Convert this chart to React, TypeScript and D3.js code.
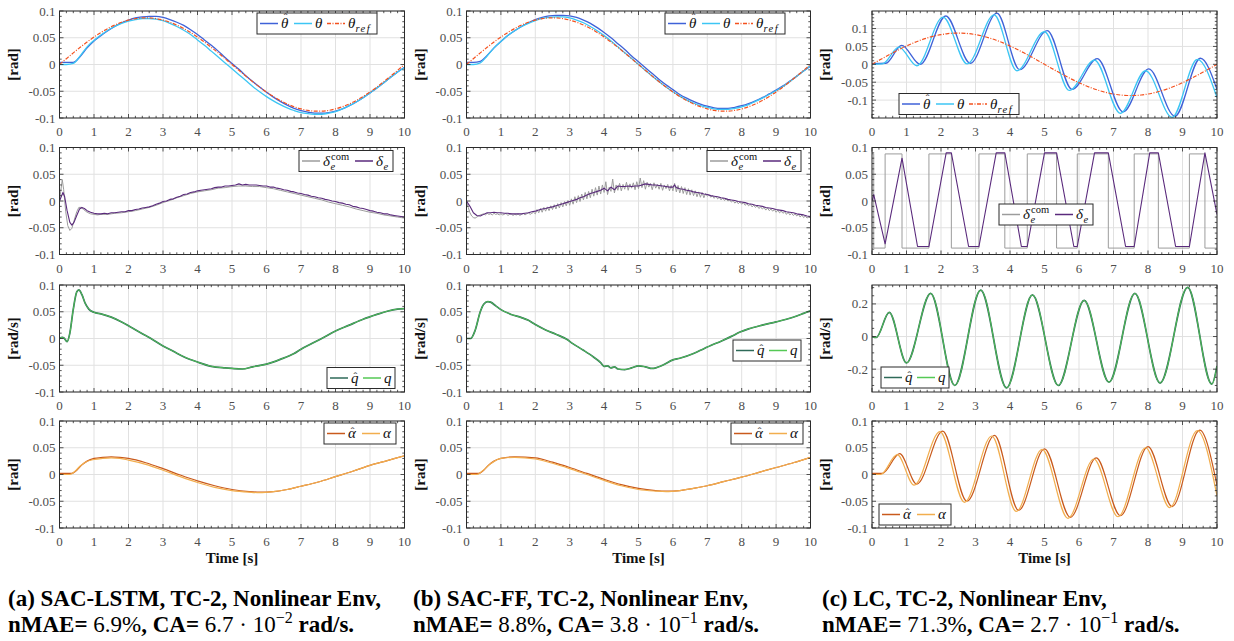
import React from "react";
import * as d3 from "d3";

type Pt = [number, number];

const FONT = '"Liberation Serif", "DejaVu Serif", "Times New Roman", Times, serif';

// ---------- tick values ----------
const TIME_TICKS = [0, 1, 2, 3, 4, 5, 6, 7, 8, 9, 10];
const ANGLE_TICKS = [-0.1, -0.05, 0, 0.05, 0.1];
const RATE_TICKS_WIDE = [-0.2, 0, 0.2];

// ---------- shared reference pitch angle (0.2 s grid) ----------
const thetaRef = [
  0, 0.0109, 0.0217, 0.0321, 0.0421, 0.0513, 0.0598, 0.0673, 0.0737, 0.079, 0.083, 0.0858, 0.0871,
  0.0871, 0.0858, 0.083, 0.079, 0.0737, 0.0673, 0.0598, 0.0513, 0.0421, 0.0321, 0.0217, 0.0109, 0,
  -0.0109, -0.0217, -0.0321, -0.0421, -0.0513, -0.0598, -0.0673, -0.0737, -0.079, -0.083, -0.0858,
  -0.0871, -0.0871, -0.0858, -0.083, -0.079, -0.0737, -0.0673, -0.0598, -0.0513, -0.0421, -0.0321,
  -0.0217, -0.0109, 0,
];

// ---------- (a) SAC-LSTM ----------
const thetaHatA = [
  0.004, 0.004, 0.004, 0.015, 0.031, 0.044, 0.054, 0.063, 0.071, 0.078, 0.083, 0.087, 0.089, 0.09,
  0.09, 0.088, 0.084, 0.079, 0.073, 0.065, 0.056, 0.046, 0.036, 0.025, 0.013, 0.002, -0.009, -0.021,
  -0.032, -0.042, -0.052, -0.061, -0.069, -0.076, -0.082, -0.086, -0.089, -0.091, -0.091, -0.09,
  -0.087, -0.083, -0.077, -0.07, -0.062, -0.053, -0.044, -0.034, -0.024, -0.014, -0.005,
];
const thetaA = [
  0, 0, 0.002, 0.016, 0.033, 0.045, 0.055, 0.064, 0.071, 0.077, 0.081, 0.084, 0.086, 0.086, 0.085,
  0.082, 0.077, 0.071, 0.064, 0.056, 0.046, 0.036, 0.025, 0.014, 0.003, -0.008, -0.019, -0.03,
  -0.041, -0.051, -0.06, -0.068, -0.075, -0.081, -0.086, -0.09, -0.092, -0.093, -0.093, -0.091,
  -0.088, -0.083, -0.077, -0.07, -0.062, -0.053, -0.044, -0.034, -0.024, -0.014, -0.006,
];
const deltaComA: Pt[] = [
  [0, 0], [0.04, 0.02], [0.08, 0.04], [0.12, 0.022], [0.18, -0.02], [0.24, -0.046], [0.3, -0.055],
  [0.36, -0.051], [0.42, -0.037], [0.5, -0.02], [0.56, -0.012], [0.62, -0.012], [0.7, -0.016],
  [0.8, -0.021], [0.9, -0.024], [1.0, -0.025], [1.1, -0.026], [1.2, -0.025], [1.4, -0.025],
  [1.6, -0.023], [1.8, -0.022], [2.0, -0.02], [2.2, -0.018], [2.4, -0.015], [2.6, -0.012],
  [2.8, -0.008], [3.0, -0.003], [3.2, 0.001], [3.4, 0.006], [3.6, 0.01], [3.8, 0.014], [4.0, 0.017],
  [4.2, 0.019], [4.4, 0.021], [4.6, 0.024], [4.8, 0.025], [5.0, 0.027], [5.2, 0.028], [5.4, 0.028],
  [5.6, 0.027], [5.8, 0.027], [6.0, 0.025], [6.2, 0.023], [6.4, 0.02], [6.6, 0.017], [6.8, 0.014],
  [7.0, 0.011], [7.2, 0.008], [7.4, 0.005], [7.6, 0.002], [7.8, -0.002], [8.0, -0.005],
  [8.2, -0.008], [8.4, -0.011], [8.6, -0.015], [8.8, -0.018], [9.0, -0.021], [9.2, -0.023],
  [9.4, -0.026], [9.6, -0.028], [9.8, -0.03], [10, -0.032],
];
const deltaA: Pt[] = [
  [0, 0], [0.05, 0.008], [0.1, 0.016], [0.15, 0.008], [0.22, -0.018], [0.3, -0.04], [0.36, -0.045],
  [0.42, -0.04], [0.5, -0.027], [0.58, -0.015], [0.65, -0.012], [0.72, -0.014], [0.8, -0.018],
  [0.9, -0.021], [1.0, -0.023], [1.1, -0.024], [1.2, -0.024], [1.3, -0.023], [1.4, -0.024],
  [1.5, -0.022], [1.6, -0.022], [1.7, -0.021], [1.8, -0.02], [1.9, -0.02], [2.0, -0.018],
  [2.1, -0.018], [2.2, -0.016], [2.3, -0.015], [2.4, -0.013], [2.5, -0.012], [2.6, -0.011],
  [2.7, -0.009], [2.8, -0.006], [2.9, -0.004], [3.0, -0.001], [3.1, 0.0], [3.2, 0.003], [3.3, 0.004],
  [3.4, 0.007], [3.5, 0.009], [3.6, 0.012], [3.7, 0.013], [3.8, 0.016], [3.9, 0.017], [4.0, 0.019],
  [4.1, 0.02], [4.2, 0.021], [4.3, 0.022], [4.4, 0.023], [4.5, 0.025], [4.6, 0.026], [4.7, 0.026],
  [4.8, 0.028], [4.9, 0.028], [5.0, 0.029], [5.1, 0.03], [5.2, 0.032], [5.3, 0.03], [5.4, 0.031],
  [5.5, 0.03], [5.6, 0.03], [5.7, 0.03], [5.8, 0.029], [5.9, 0.028], [6.0, 0.028], [6.1, 0.026],
  [6.2, 0.026], [6.3, 0.024], [6.4, 0.023], [6.5, 0.021], [6.6, 0.02], [6.7, 0.018], [6.8, 0.017],
  [6.9, 0.015], [7.0, 0.014], [7.1, 0.012], [7.2, 0.011], [7.3, 0.009], [7.4, 0.008], [7.5, 0.006],
  [7.6, 0.005], [7.7, 0.003], [7.8, 0.002], [7.9, 0.0], [8.0, -0.001], [8.1, -0.003], [8.2, -0.004],
  [8.3, -0.006], [8.4, -0.007], [8.5, -0.01], [8.6, -0.011], [8.7, -0.013], [8.8, -0.014],
  [8.9, -0.016], [9.0, -0.018], [9.1, -0.019], [9.2, -0.021], [9.3, -0.022], [9.4, -0.024],
  [9.5, -0.024], [9.6, -0.026], [9.7, -0.027], [9.8, -0.028], [9.9, -0.029], [10, -0.03],
];
const qA: Pt[] = [
  [0, 0], [0.08, 0.002], [0.13, 0.001], [0.22, -0.006], [0.3, 0.01], [0.4, 0.055], [0.5, 0.087],
  [0.56, 0.091], [0.65, 0.082], [0.75, 0.065], [0.85, 0.055], [1.0, 0.049], [1.2, 0.046],
  [1.5, 0.04], [1.8, 0.031], [2.1, 0.02], [2.4, 0.009], [2.65, 0.0], [3.0, -0.014], [3.3, -0.024],
  [3.6, -0.034], [4.0, -0.044], [4.4, -0.052], [4.8, -0.055], [5.0, -0.056], [5.3, -0.057],
  [5.6, -0.053], [6.0, -0.048], [6.4, -0.039], [6.8, -0.028], [7.0, -0.02], [7.3, -0.01],
  [7.6, 0.0], [8.0, 0.014], [8.4, 0.025], [8.8, 0.036], [9.2, 0.045], [9.5, 0.051], [9.8, 0.055],
  [10, 0.056],
];
const alphaHatA: Pt[] = [
  [0, 0.002], [0.35, 0.002], [0.5, 0.008], [0.65, 0.018], [0.8, 0.025], [1.0, 0.03], [1.25, 0.032],
  [1.5, 0.033], [1.75, 0.032], [2.0, 0.03], [2.5, 0.022], [3.0, 0.011], [3.5, -0.001], [4.0, -0.012],
  [4.5, -0.021], [5.0, -0.028], [5.5, -0.032], [5.8, -0.033], [6.2, -0.032], [6.6, -0.028],
  [7.0, -0.022], [7.5, -0.014], [8.0, -0.004], [8.5, 0.006], [9.0, 0.017], [9.5, 0.026], [10, 0.035],
];
const alphaA: Pt[] = [
  [0, 0], [0.3, 0], [0.45, 0.006], [0.6, 0.016], [0.75, 0.023], [1.0, 0.028], [1.25, 0.03],
  [1.5, 0.031], [1.75, 0.03], [2.0, 0.027], [2.5, 0.019], [3.0, 0.008], [3.5, -0.004], [4.0, -0.015],
  [4.5, -0.024], [5.0, -0.03], [5.5, -0.033], [5.8, -0.034], [6.2, -0.032], [6.6, -0.028],
  [7.0, -0.022], [7.5, -0.014], [8.0, -0.004], [8.5, 0.006], [9.0, 0.017], [9.5, 0.026], [10, 0.035],
];

// ---------- (b) SAC-FF ----------
const thetaHatB = [
  0.004, 0.004, 0.006, 0.017, 0.031, 0.043, 0.054, 0.063, 0.071, 0.078, 0.084, 0.088, 0.091, 0.092,
  0.092, 0.091, 0.088, 0.083, 0.077, 0.069, 0.06, 0.05, 0.039, 0.028, 0.016, 0.005, -0.006, -0.017,
  -0.028, -0.038, -0.047, -0.056, -0.063, -0.069, -0.074, -0.078, -0.081, -0.082, -0.082, -0.08,
  -0.077, -0.073, -0.068, -0.062, -0.055, -0.048, -0.04, -0.031, -0.022, -0.012, -0.003,
];
const thetaB = [
  0, 0, 0.003, 0.016, 0.031, 0.043, 0.054, 0.063, 0.071, 0.077, 0.082, 0.086, 0.088, 0.089, 0.089,
  0.087, 0.083, 0.078, 0.071, 0.063, 0.054, 0.044, 0.033, 0.022, 0.011, 0.0, -0.011, -0.022, -0.032,
  -0.042, -0.051, -0.059, -0.066, -0.072, -0.077, -0.08, -0.083, -0.084, -0.084, -0.082, -0.079,
  -0.075, -0.069, -0.063, -0.056, -0.049, -0.041, -0.032, -0.022, -0.012, -0.002,
];
// commanded elevator, 0.05 s grid
const deltaComB = [
  0.0, -0.012, -0.022, -0.028, -0.031, -0.032, -0.03, -0.028, -0.026, -0.025, -0.024, -0.026, -0.023, -0.025, -0.024, -0.026, -0.023, -0.025, -0.024, -0.026,
  -0.024, -0.026, -0.025, -0.023, -0.027, -0.025, -0.024, -0.027, -0.025, -0.026, -0.024, -0.027, -0.025, -0.023, -0.026, -0.024, -0.022, -0.025, -0.023, -0.021,
  -0.024, -0.016, -0.022, -0.014, -0.021, -0.012, -0.019, -0.011, -0.018, -0.009, -0.016, -0.007, -0.015, -0.005, -0.013, -0.003, -0.011, -0.001, -0.009, 0.001,
  -0.008, 0.004, -0.006, 0.008, -0.003, 0.01, -0.001, 0.013, 0.002, 0.016, 0.004, 0.018, 0.006, 0.022, 0.009, 0.025, 0.011, 0.028, 0.013, 0.03,
  0.016, 0.036, 0.012, 0.026, 0.018, 0.041, 0.015, 0.03, 0.02, 0.033, 0.019, 0.031, 0.022, 0.035, 0.02, 0.032, 0.024, 0.034, 0.021, 0.036,
  0.023, 0.043, 0.025, 0.038, 0.022, 0.035, 0.026, 0.033, 0.021, 0.034, 0.024, 0.031, 0.022, 0.033, 0.02, 0.03, 0.023, 0.031, 0.019, 0.029,
  0.019, 0.033, 0.017, 0.029, 0.015, 0.027, 0.014, 0.025, 0.012, 0.023, 0.011, 0.021, 0.01, 0.019, 0.008, 0.017, 0.007, 0.016, 0.006, 0.014,
  0.009, 0.012, 0.007, 0.01, 0.005, 0.009, 0.004, 0.007, 0.002, 0.006, 0.001, 0.004, 0.0, 0.002, -0.002, 0.001, -0.004, -0.001, -0.005, -0.002,
  -0.006, -0.003, -0.008, -0.005, -0.009, -0.006, -0.011, -0.008, -0.012, -0.009, -0.014, -0.011, -0.015, -0.012, -0.017, -0.013, -0.018, -0.015, -0.019, -0.016,
  -0.021, -0.017, -0.022, -0.019, -0.023, -0.02, -0.025, -0.021, -0.026, -0.023, -0.027, -0.024, -0.028, -0.025, -0.03, -0.026, -0.031, -0.028, -0.032, -0.029,
  -0.031,
];
const deltaB: Pt[] = [
  [0, 0], [0.1, -0.01], [0.2, -0.022], [0.3, -0.027], [0.4, -0.028], [0.5, -0.025], [0.6, -0.022],
  [0.7, -0.022], [0.8, -0.021], [0.9, -0.022], [1.0, -0.022], [1.1, -0.023], [1.2, -0.023],
  [1.3, -0.024], [1.4, -0.024], [1.5, -0.024], [1.6, -0.024], [1.7, -0.023], [1.8, -0.022],
  [1.9, -0.02], [2.0, -0.019], [2.1, -0.017], [2.2, -0.015], [2.3, -0.014], [2.4, -0.012],
  [2.5, -0.011], [2.6, -0.009], [2.7, -0.007], [2.8, -0.005], [2.9, -0.003], [3.0, -0.001],
  [3.1, 0.001], [3.2, 0.003], [3.3, 0.006], [3.4, 0.008], [3.5, 0.011], [3.6, 0.014], [3.7, 0.016],
  [3.8, 0.018], [3.9, 0.02], [4.0, 0.024], [4.1, 0.019], [4.2, 0.026], [4.3, 0.021], [4.4, 0.028],
  [4.5, 0.027], [4.6, 0.027], [4.7, 0.028], [4.8, 0.027], [4.9, 0.028], [5.0, 0.028], [5.1, 0.03],
  [5.2, 0.032], [5.3, 0.031], [5.4, 0.03], [5.5, 0.03], [5.6, 0.029], [5.7, 0.028], [5.8, 0.027],
  [5.9, 0.026], [6.0, 0.026], [6.05, 0.03], [6.1, 0.025], [6.2, 0.023], [6.3, 0.022], [6.4, 0.02],
  [6.5, 0.019], [6.6, 0.017], [6.7, 0.016], [6.8, 0.015], [6.9, 0.013], [7.0, 0.012], [7.1, 0.01],
  [7.2, 0.009], [7.3, 0.008], [7.4, 0.006], [7.5, 0.005], [7.6, 0.003], [7.7, 0.002], [7.8, 0.001],
  [7.9, -0.001], [8.0, -0.002], [8.1, -0.003], [8.2, -0.005], [8.3, -0.006], [8.4, -0.008],
  [8.5, -0.009], [8.6, -0.01], [8.7, -0.012], [8.8, -0.013], [8.9, -0.014], [9.0, -0.016],
  [9.1, -0.017], [9.2, -0.018], [9.3, -0.02], [9.4, -0.021], [9.5, -0.022], [9.6, -0.024],
  [9.7, -0.025], [9.8, -0.026], [9.9, -0.028], [10, -0.029],
];
const qB: Pt[] = [
  [0, 0], [0.12, 0], [0.25, 0.015], [0.4, 0.05], [0.5, 0.064], [0.62, 0.069], [0.7, 0.068],
  [0.85, 0.061], [1.0, 0.054], [1.3, 0.045], [1.6, 0.039], [1.8, 0.034], [2.0, 0.026], [2.3, 0.016],
  [2.6, 0.008], [2.9, -0.001], [3.1, -0.01], [3.4, -0.022], [3.7, -0.035], [3.9, -0.045],
  [4.0, -0.052], [4.1, -0.051], [4.2, -0.055], [4.3, -0.053], [4.4, -0.057], [4.6, -0.058],
  [4.8, -0.055], [5.0, -0.051], [5.2, -0.053], [5.4, -0.056], [5.7, -0.05], [6.0, -0.04],
  [6.2, -0.037], [6.6, -0.028], [6.9, -0.019], [7.1, -0.013], [7.4, -0.005], [7.7, 0.004],
  [7.95, 0.012], [8.2, 0.018], [8.6, 0.025], [9.0, 0.031], [9.3, 0.036], [9.6, 0.042], [9.8, 0.047],
  [10, 0.052],
];
const alphaHatB: Pt[] = [
  [0, 0.002], [0.35, 0.002], [0.5, 0.008], [0.65, 0.018], [0.8, 0.025], [1.0, 0.03], [1.4, 0.033],
  [2.0, 0.031], [2.5, 0.023], [3.0, 0.013], [3.5, 0.002], [4.0, -0.009], [4.5, -0.019],
  [5.0, -0.026], [5.5, -0.03], [5.8, -0.031], [6.2, -0.03], [6.6, -0.026], [7.0, -0.021],
  [7.5, -0.013], [8.0, -0.005], [8.5, 0.004], [9.0, 0.013], [9.5, 0.022], [10, 0.032],
];
const alphaB: Pt[] = [
  [0, 0], [0.3, 0], [0.45, 0.006], [0.7, 0.02], [1.0, 0.03], [1.4, 0.032], [2.0, 0.029],
  [2.5, 0.021], [3.0, 0.011], [3.5, 0.0], [4.0, -0.011], [4.5, -0.021], [5.0, -0.028], [5.5, -0.031],
  [5.8, -0.032], [6.2, -0.03], [6.6, -0.026], [7.0, -0.021], [7.5, -0.013], [8.0, -0.005],
  [8.5, 0.004], [9.0, 0.013], [9.5, 0.022], [10, 0.032],
];

// ---------- (c) LC (turning points of the oscillation) ----------
const thetaHatC: Pt[] = [
  [0, 0.002], [0.4, 0.003], [0.86, 0.053], [1.4, 0.0], [2.14, 0.135], [2.85, 0.003], [3.62, 0.143],
  [4.28, -0.015], [5.08, 0.094], [5.8, -0.07], [6.53, 0.016], [7.28, -0.133], [8.02, -0.013],
  [8.78, -0.145], [9.52, 0.017], [10, -0.07],
];
const thetaC: Pt[] = [
  [0, 0], [0.3, 0.001], [0.78, 0.048], [1.3, -0.004], [2.06, 0.132], [2.76, 0.001], [3.54, 0.138],
  [4.2, -0.018], [5.0, 0.091], [5.72, -0.073], [6.45, 0.012], [7.2, -0.137], [7.93, -0.018],
  [8.7, -0.148], [9.43, 0.014], [10, -0.093],
];
// bang-bang elevator command: switching instants and levels
const deltaComC: Pt[] = [
  [0, 0.088], [0.05, -0.088], [0.38, 0.088], [0.87, -0.088], [1.65, 0.088], [2.3, -0.088],
  [3.1, 0.088], [3.85, -0.088], [4.5, 0.088], [5.35, -0.088], [5.95, 0.088], [6.85, -0.088],
  [7.6, 0.088], [8.3, -0.088], [9.2, 0.088], [9.65, -0.088], [10, -0.088],
];
const deltaC: Pt[] = [
  [0, 0], [0.05, 0.012], [0.38, -0.08], [0.87, 0.08], [1.32, -0.085], [1.65, -0.085], [2.15, 0.09],
  [2.3, 0.09], [2.8, -0.085], [3.1, -0.085], [3.6, 0.09], [3.85, 0.09], [4.33, -0.085], [4.5, -0.085],
  [5.0, 0.09], [5.35, 0.09], [5.85, -0.085], [5.95, -0.085], [6.45, 0.09], [6.85, 0.09],
  [7.35, -0.085], [7.6, -0.085], [8.05, 0.09], [8.3, 0.09], [8.8, -0.085], [9.2, -0.085],
  [9.65, 0.09], [10, -0.025],
];
const qC: Pt[] = [
  [0, 0], [0.12, -0.006], [0.5, 0.148], [1.0, -0.162], [1.7, 0.265], [2.4, -0.3], [3.15, 0.285],
  [3.9, -0.315], [4.65, 0.255], [5.4, -0.3], [6.15, 0.222], [6.87, -0.28], [7.62, 0.265],
  [8.35, -0.285], [9.15, 0.302], [9.85, -0.292], [10, -0.18],
];
const alphaHatC: Pt[] = [
  [0, 0.002], [0.3, 0.002], [0.8, 0.039], [1.3, -0.018], [2.05, 0.081], [2.75, -0.05], [3.55, 0.073],
  [4.25, -0.067], [5.0, 0.048], [5.75, -0.08], [6.5, 0.031], [7.2, -0.077], [8.0, 0.052],
  [8.7, -0.06], [9.5, 0.083], [10, -0.02],
];
const alphaC: Pt[] = [
  [0, 0], [0.25, 0], [0.73, 0.037], [1.22, -0.02], [1.97, 0.08], [2.68, -0.052], [3.47, 0.072],
  [4.18, -0.069], [4.93, 0.047], [5.68, -0.082], [6.43, 0.029], [7.13, -0.079], [7.93, 0.05],
  [8.63, -0.062], [9.43, 0.082], [10, -0.04],
];

// ---------- captions ----------
const CAPTION_TITLES = [
  "(a) SAC-LSTM, TC-2, Nonlinear Env,",
  "(b) SAC-FF, TC-2, Nonlinear Env,",
  "(c) LC, TC-2, Nonlinear Env,",
];
const CAPTION_NMAE = ["6.9%", "8.8%", "71.3%"];
const CAPTION_CA = ["6.7", "3.8", "2.7"];
const CAPTION_CA_EXP = ["\u22122", "\u22121", "\u22121"];

// ---------- helpers ----------
const onGrid = (vals: number[]): Pt[] => vals.map((v, i) => [(i * 10) / (vals.length - 1), v]);

const COLORS = {
  thetaHat: "#3F62D8",
  theta: "#3CC6F4",
  thetaRef: "#F4511E",
  deltaCom: "#9C9C9C",
  delta: "#5A2A7C",
  qHat: "#2E6A58",
  q: "#55C955",
  alphaHat: "#C95A1C",
  alpha: "#F2AE4E",
};

type LabelSpec = { sym: string; hat?: boolean; hatRise?: number; sub?: string; sup?: string; w: number };
type Series = { data: Pt[]; color: string; width: number; dash?: string; curve: d3.CurveFactory };
type Legend = { x: number; y: number; items: { s: number; label: LabelSpec }[] };
type Panel = {
  col: number;
  row: number;
  yDomain: [number, number];
  yTicks: number[];
  yMinor: number;
  yLabel: string;
  series: Series[];
  legend: Legend;
};

const COLS = [
  { left: 59.5, width: 345 },
  { left: 466.5, width: 344 },
  { left: 872, width: 345 },
];
const ROWS = [11, 147.5, 285, 421];
const PANEL_H = 107;

const L_THETA_HAT: LabelSpec = { sym: "\u03b8", hat: true, hatRise: 7, w: 9 };
const L_THETA: LabelSpec = { sym: "\u03b8", w: 8 };
const L_THETA_REF: LabelSpec = { sym: "\u03b8", sub: "ref", w: 26 };
const L_DELTA_COM: LabelSpec = { sym: "\u03b4", sub: "e", sup: "com", w: 28 };
const L_DELTA: LabelSpec = { sym: "\u03b4", sub: "e", w: 14 };
const L_Q_HAT: LabelSpec = { sym: "q", hat: true, hatRise: 3, w: 8 };
const L_Q: LabelSpec = { sym: "q", w: 8 };
const L_ALPHA_HAT: LabelSpec = { sym: "\u03b1", hat: true, hatRise: 3, w: 10 };
const L_ALPHA: LabelSpec = { sym: "\u03b1", w: 10 };

const smooth = d3.curveMonotoneX;
const lin = d3.curveLinear;

const thetaSeries = (hat: Pt[], th: Pt[], curve: d3.CurveFactory): Series[] => [
  { data: hat, color: COLORS.thetaHat, width: 1.3, curve },
  { data: th, color: COLORS.theta, width: 1.3, curve },
  { data: onGrid(thetaRef), color: COLORS.thetaRef, width: 1.2, dash: "4 1.5 1 1.5", curve: smooth },
];
const deltaSeries = (com: Pt[], d: Pt[], comCurve: d3.CurveFactory, dCurve: d3.CurveFactory): Series[] => [
  { data: com, color: COLORS.deltaCom, width: 1, curve: comCurve },
  { data: d, color: COLORS.delta, width: 1.1, curve: dCurve },
];
const qSeries = (q: Pt[]): Series[] => [
  { data: q, color: COLORS.qHat, width: 1.7, curve: smooth },
  { data: q, color: COLORS.q, width: 0.9, curve: smooth },
];
const alphaSeries = (hat: Pt[], a: Pt[]): Series[] => [
  { data: hat, color: COLORS.alphaHat, width: 1.2, curve: smooth },
  { data: a, color: COLORS.alpha, width: 1.2, curve: smooth },
];

const thetaItems = [
  { s: 0, label: L_THETA_HAT },
  { s: 1, label: L_THETA },
  { s: 2, label: L_THETA_REF },
];
const deltaItems = [
  { s: 0, label: L_DELTA_COM },
  { s: 1, label: L_DELTA },
];
const qItems = [
  { s: 0, label: L_Q_HAT },
  { s: 1, label: L_Q },
];
const alphaItems = [
  { s: 0, label: L_ALPHA_HAT },
  { s: 1, label: L_ALPHA },
];

const PANELS: Panel[] = [
  // column (a)
  { col: 0, row: 0, yDomain: [-0.1, 0.1], yTicks: ANGLE_TICKS, yMinor: 0.01, yLabel: "[rad]",
    series: thetaSeries(onGrid(thetaHatA), onGrid(thetaA), smooth), legend: { x: 257, y: 13, items: thetaItems } },
  { col: 0, row: 1, yDomain: [-0.1, 0.1], yTicks: ANGLE_TICKS, yMinor: 0.01, yLabel: "[rad]",
    series: deltaSeries(deltaComA, deltaA, lin, lin), legend: { x: 299, y: 150.5, items: deltaItems } },
  { col: 0, row: 2, yDomain: [-0.1, 0.1], yTicks: ANGLE_TICKS, yMinor: 0.01, yLabel: "[rad/s]",
    series: qSeries(qA), legend: { x: 327, y: 367.5, items: qItems } },
  { col: 0, row: 3, yDomain: [-0.1, 0.1], yTicks: ANGLE_TICKS, yMinor: 0.01, yLabel: "[rad]",
    series: alphaSeries(alphaHatA, alphaA), legend: { x: 324, y: 423, items: alphaItems } },
  // column (b)
  { col: 1, row: 0, yDomain: [-0.1, 0.1], yTicks: ANGLE_TICKS, yMinor: 0.01, yLabel: "[rad]",
    series: thetaSeries(onGrid(thetaHatB), onGrid(thetaB), smooth), legend: { x: 665, y: 13, items: thetaItems } },
  { col: 1, row: 1, yDomain: [-0.1, 0.1], yTicks: ANGLE_TICKS, yMinor: 0.01, yLabel: "[rad]",
    series: deltaSeries(onGrid(deltaComB), deltaB, lin, lin), legend: { x: 707, y: 150.5, items: deltaItems } },
  { col: 1, row: 2, yDomain: [-0.1, 0.1], yTicks: ANGLE_TICKS, yMinor: 0.01, yLabel: "[rad/s]",
    series: qSeries(qB), legend: { x: 733, y: 340, items: qItems } },
  { col: 1, row: 3, yDomain: [-0.1, 0.1], yTicks: ANGLE_TICKS, yMinor: 0.01, yLabel: "[rad]",
    series: alphaSeries(alphaHatB, alphaB), legend: { x: 731, y: 423, items: alphaItems } },
  // column (c)
  { col: 2, row: 0, yDomain: [-0.15, 0.149], yTicks: ANGLE_TICKS, yMinor: 0.01, yLabel: "[rad]",
    series: thetaSeries(thetaHatC, thetaC, smooth), legend: { x: 899, y: 93.5, items: thetaItems } },
  { col: 2, row: 1, yDomain: [-0.1, 0.1], yTicks: ANGLE_TICKS, yMinor: 0.01, yLabel: "[rad]",
    series: deltaSeries(deltaComC, deltaC, d3.curveStepAfter, lin), legend: { x: 999, y: 204, items: deltaItems } },
  { col: 2, row: 2, yDomain: [-0.34, 0.316], yTicks: RATE_TICKS_WIDE, yMinor: 0.05, yLabel: "[rad/s]",
    series: qSeries(qC), legend: { x: 881, y: 367, items: qItems } },
  { col: 2, row: 3, yDomain: [-0.1, 0.1], yTicks: ANGLE_TICKS, yMinor: 0.01, yLabel: "[rad]",
    series: alphaSeries(alphaHatC, alphaC), legend: { x: 879, y: 504, items: alphaItems } },
];

const AXIS_COLOR = "#2b2b2b";
const GRID_COLOR = "#e1e1e1";
const TICK_TEXT = "#4d4d4d";

const serif = { fontFamily: FONT } as React.CSSProperties;

function MathLabel({ spec, x, y }: { spec: LabelSpec; x: number; y: number }) {
  const glyphW = spec.sym === "q" ? 7 : 7.5;
  return (
    <g fill="#111" style={serif}>
      <text x={x} y={y} fontSize={15} fontStyle="italic" style={serif}>
        {spec.sym}
      </text>
      {spec.hat && (
        <text x={x + glyphW * 0.62} y={y - (spec.hatRise ?? 3)} fontSize={11} textAnchor="middle" style={serif}>
          {"\u02c6"}
        </text>
      )}
      {spec.sub && (
        <text x={x + glyphW} y={y + 4} fontSize={10.5} fontStyle="italic" letterSpacing={spec.sub.length > 1 ? 1.4 : 0} style={serif}>
          {spec.sub}
        </text>
      )}
      {spec.sup && (
        <text x={x + glyphW + 0.5} y={y - 6} fontSize={10.5} style={serif}>
          {spec.sup}
        </text>
      )}
    </g>
  );
}

function LegendBox({ legend, series }: { legend: Legend; series: Series[] }) {
  const lineLen = 18;
  const pad = 3;
  let cursor = legend.x + pad;
  const parts = legend.items.map((it, i) => {
    const x0 = cursor;
    cursor += lineLen + 3 + it.label.w + (i < legend.items.length - 1 ? 4 : 0);
    return { ...it, x0 };
  });
  const w = cursor - legend.x + pad;
  const h = 21;
  const cy = legend.y + h / 2;
  return (
    <g>
      <rect x={legend.x} y={legend.y} width={w} height={h} fill="#fff" stroke={AXIS_COLOR} strokeWidth={1} />
      {parts.map((p, i) => {
        const s = series[p.s];
        return (
          <g key={i}>
            <line x1={p.x0} x2={p.x0 + lineLen} y1={cy} y2={cy} stroke={s.color} strokeWidth={1.5} strokeDasharray={s.dash} />
            <MathLabel spec={p.label} x={p.x0 + lineLen + 3} y={cy + 4.5} />
          </g>
        );
      })}
    </g>
  );
}

function PanelView({ p, id }: { p: Panel; id: number }) {
  const col = COLS[p.col];
  const top = ROWS[p.row];
  const bottom = top + PANEL_H;
  const left = col.left;
  const right = col.left + col.width;
  const x = d3.scaleLinear().domain([0, 10]).range([left, right]);
  const y = d3.scaleLinear().domain(p.yDomain).range([bottom, top]);

  const xMinor: number[] = [];
  for (let k = 0; k <= 50; k++) if (k % 5 !== 0) xMinor.push(k * 0.2);
  const yMinor: number[] = [];
  const k0 = Math.ceil(p.yDomain[0] / p.yMinor - 1e-9);
  const k1 = Math.floor(p.yDomain[1] / p.yMinor + 1e-9);
  for (let k = k0; k <= k1; k++) {
    const v = k * p.yMinor;
    if (!p.yTicks.some((t) => Math.abs(t - v) < 1e-9)) yMinor.push(v);
  }

  const line = (s: Series) =>
    d3
      .line<Pt>()
      .x((d) => x(d[0]))
      .y((d) => y(d[1]))
      .curve(s.curve)(s.data) ?? "";

  const MAJ = 4;
  const MIN = 2.2;
  const clipId = `clip-${id}`;

  return (
    <g>
      <defs>
        <clipPath id={clipId}>
          <rect x={left} y={top} width={right - left} height={bottom - top} />
        </clipPath>
      </defs>
      <rect x={left} y={top} width={right - left} height={bottom - top} fill="#fff" />
      {/* grid */}
      {TIME_TICKS.map((t) => (
        <line key={`gx${t}`} x1={x(t)} x2={x(t)} y1={top} y2={bottom} stroke={GRID_COLOR} strokeWidth={1} />
      ))}
      {p.yTicks.map((v) => (
        <line key={`gy${v}`} x1={left} x2={right} y1={y(v)} y2={y(v)} stroke={GRID_COLOR} strokeWidth={1} />
      ))}
      {/* data */}
      <g clipPath={`url(#${clipId})`}>
        {p.series.map((s, i) => (
          <path key={i} d={line(s)} fill="none" stroke={s.color} strokeWidth={s.width} strokeDasharray={s.dash} strokeLinejoin="round" />
        ))}
      </g>
      {/* ticks, inward on all four sides */}
      <g stroke={AXIS_COLOR} strokeWidth={0.8}>
        {TIME_TICKS.map((t) => (
          <g key={`tx${t}`}>
            <line x1={x(t)} x2={x(t)} y1={bottom} y2={bottom - MAJ} />
            <line x1={x(t)} x2={x(t)} y1={top} y2={top + MAJ} />
          </g>
        ))}
        {xMinor.map((t) => (
          <g key={`mx${t}`}>
            <line x1={x(t)} x2={x(t)} y1={bottom} y2={bottom - MIN} />
            <line x1={x(t)} x2={x(t)} y1={top} y2={top + MIN} />
          </g>
        ))}
        {p.yTicks.map((v) => (
          <g key={`ty${v}`}>
            <line x1={left} x2={left + MAJ} y1={y(v)} y2={y(v)} />
            <line x1={right} x2={right - MAJ} y1={y(v)} y2={y(v)} />
          </g>
        ))}
        {yMinor.map((v) => (
          <g key={`my${v}`}>
            <line x1={left} x2={left + MIN} y1={y(v)} y2={y(v)} />
            <line x1={right} x2={right - MIN} y1={y(v)} y2={y(v)} />
          </g>
        ))}
      </g>
      <rect x={left} y={top} width={right - left} height={bottom - top} fill="none" stroke={AXIS_COLOR} strokeWidth={1} />
      {/* tick labels */}
      <g fontSize={13} fill={TICK_TEXT} style={serif}>
        {TIME_TICKS.map((t) => (
          <text key={`lx${t}`} x={x(t)} y={bottom + 18} textAnchor="middle" style={serif}>
            {String(t)}
          </text>
        ))}
        {p.yTicks.map((v) => (
          <text key={`ly${v}`} x={left - 4} y={y(v) + 4.5} textAnchor="end" style={serif}>
            {String(v)}
          </text>
        ))}
      </g>
      {/* y label */}
      <text
        transform={`translate(${left - 42},${(top + bottom) / 2}) rotate(-90)`}
        textAnchor="middle"
        fontSize={15}
        fontWeight="bold"
        style={serif}
        fill="#111"
      >
        {p.yLabel}
      </text>
      <LegendBox legend={p.legend} series={p.series} />
    </g>
  );
}

const CAPTION_X = [8, 413, 822];

export default function App() {
  return (
    <svg
      width={1234}
      height={641}
      viewBox="0 0 1234 641"
      style={{ position: "absolute", left: 0, top: 0, display: "block", background: "#fff", fontFamily: FONT }}
    >
      <rect width={1234} height={641} fill="#fff" />
      {PANELS.map((p, i) => (
        <PanelView key={i} p={p} id={i} />
      ))}
      {COLS.map((c, i) => (
        <text key={`time${i}`} x={c.left + c.width / 2} y={563} textAnchor="middle" fontSize={15} fontWeight="bold" fill="#111" style={serif}>
          Time [s]
        </text>
      ))}
      {CAPTION_TITLES.map((title, i) => (
        <g key={`cap${i}`} fill="#000">
          <text x={CAPTION_X[i]} y={606} fontSize={23} fontWeight="bold" style={serif}>
            {title}
          </text>
          <text x={CAPTION_X[i]} y={632} fontSize={23} style={serif}>
            <tspan fontWeight="bold">nMAE=</tspan>
            <tspan> {CAPTION_NMAE[i]}</tspan>
            <tspan fontWeight="bold">, CA=</tspan>
            <tspan> {CAPTION_CA[i]} {"\u00b7"} 10</tspan>
            <tspan dy={-9} fontSize={16}>{CAPTION_CA_EXP[i]}</tspan>
            <tspan dy={9} fontWeight="bold"> rad/s.</tspan>
          </text>
        </g>
      ))}
    </svg>
  );
}
